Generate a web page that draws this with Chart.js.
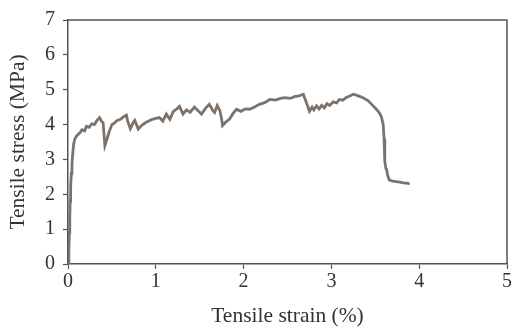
<!DOCTYPE html>
<html>
<head>
<meta charset="utf-8">
<script src="https://cdn.jsdelivr.net/npm/chart.js@4/dist/chart.umd.min.js"></script>
<style>
  html, body { margin: 0; padding: 0; background: #fff; }
  #wrap { width: 513px; height: 329px; }
</style>
</head>
<body>
<div id="wrap"><canvas id="chart"></canvas></div>
<script>
// Tensile test curve (strain in %, stress in MPa)
const strain = [
  0.00, 0.01, 0.015, 0.02, 0.025, 0.03, 0.038, 0.045, 0.055, 0.065,
  0.08, 0.10, 0.13, 0.16, 0.19, 0.21, 0.24, 0.27, 0.30, 0.33,
  0.36, 0.38, 0.40, 0.42, 0.44, 0.47, 0.50, 0.53, 0.56, 0.60,
  0.63, 0.665, 0.68, 0.71, 0.74, 0.76, 0.78, 0.80, 0.84, 0.88,
  0.92, 0.96, 1.00, 1.04, 1.08, 1.12, 1.16, 1.20, 1.24, 1.27,
  1.31, 1.35, 1.39, 1.44, 1.48, 1.52, 1.57, 1.61, 1.65, 1.67,
  1.70, 1.73, 1.75, 1.76, 1.80, 1.84, 1.88, 1.92, 1.97, 2.02,
  2.07, 2.12, 2.18, 2.24, 2.30, 2.36, 2.42, 2.47, 2.53, 2.58,
  2.63, 2.68, 2.70, 2.72, 2.75, 2.78, 2.80, 2.83, 2.86, 2.89,
  2.92, 2.95, 2.98, 3.02, 3.06, 3.09, 3.13, 3.17, 3.21, 3.25,
  3.30, 3.36, 3.42, 3.47, 3.52, 3.55, 3.57, 3.59, 3.60, 3.605,
  3.61, 3.62, 3.63, 3.64, 3.66, 3.70, 3.74, 3.78, 3.82, 3.86,
  3.89
];
const stress = [
  0.00, 0.45, 0.90, 1.30, 1.80, 2.20, 2.60, 2.85, 3.20, 3.45,
  3.60, 3.68, 3.75, 3.85, 3.82, 3.95, 3.92, 4.02, 4.00, 4.12,
  4.20, 4.10, 4.05, 3.40, 3.55, 3.80, 4.00, 4.05, 4.12, 4.15,
  4.22, 4.27, 4.10, 3.88, 4.05, 4.12, 4.00, 3.87, 3.98, 4.05,
  4.10, 4.15, 4.18, 4.20, 4.10, 4.30, 4.15, 4.38, 4.45, 4.52,
  4.30, 4.42, 4.35, 4.50, 4.40, 4.30, 4.48, 4.58, 4.40, 4.35,
  4.55, 4.40, 4.16, 3.97, 4.08, 4.16, 4.32, 4.44, 4.38, 4.45,
  4.44, 4.50, 4.58, 4.63, 4.72, 4.70, 4.75, 4.77, 4.75, 4.80,
  4.82, 4.87, 4.73, 4.60, 4.38, 4.50, 4.42, 4.54, 4.45, 4.55,
  4.48, 4.60, 4.55, 4.65, 4.62, 4.72, 4.70, 4.78, 4.82, 4.87,
  4.83, 4.77, 4.68, 4.55, 4.42, 4.32, 4.22, 4.00, 3.60, 3.30,
  2.95, 2.75, 2.70, 2.55, 2.41, 2.38, 2.36, 2.35, 2.33, 2.32,
  2.30
];
const xTicks = [0, 1, 2, 3, 4, 5];
const yTicks = [0, 1, 2, 3, 4, 5, 6, 7];

const axisColor = '#55505a';
const textColor = '#333333';
const tickFont = { family: '"Liberation Serif", "DejaVu Serif", serif', size: 20 };
const titleFont = { family: '"Liberation Serif", "DejaVu Serif", serif', size: 21.5 };

// draw the top and right edges of the frame
const framePlugin = {
  id: 'frame',
  afterDraw(chart) {
    const a = chart.chartArea;
    const ctx = chart.ctx;
    ctx.save();
    ctx.strokeStyle = axisColor;
    ctx.lineWidth = 1.5;
    ctx.beginPath();
    ctx.moveTo(a.left, a.top);
    ctx.lineTo(a.right, a.top);
    ctx.lineTo(a.right, a.bottom);
    ctx.stroke();
    ctx.restore();
  }
};

const points = strain.map((s, i) => ({ x: s, y: stress[i] }));

new Chart(document.getElementById('chart'), {
  type: 'scatter',
  data: {
    datasets: [{
      data: points,
      showLine: true,
      borderColor: '#7d7269',
      borderWidth: 2.8,
      pointRadius: 0,
      tension: 0
    }]
  },
  options: {
    responsive: true,
    maintainAspectRatio: false,
    animation: false,
    layout: { padding: { top: 16, right: 6, left: 0, bottom: 0 } },
    plugins: {
      legend: { display: false },
      tooltip: { enabled: false }
    },
    scales: {
      x: {
        type: 'linear',
        min: 0,
        max: 5,
        afterBuildTicks: s => { s.ticks = xTicks.map(v => ({ value: v })); },
        afterFit: s => { s.height = 65; },
        border: { color: axisColor, width: 1.5 },
        grid: { drawOnChartArea: false, tickLength: 5, color: axisColor, tickWidth: 1.2 },
        ticks: { color: textColor, font: tickFont, padding: 1, maxRotation: 0 },
        title: { display: true, text: 'Tensile strain (%)', color: textColor, font: titleFont, padding: { top: 6, bottom: 0 } }
      },
      y: {
        type: 'linear',
        min: 0,
        max: 7,
        afterBuildTicks: s => { s.ticks = yTicks.map(v => ({ value: v })); },
        afterFit: s => { s.width = 68; },
        border: { color: axisColor, width: 1.5 },
        grid: { drawOnChartArea: false, tickLength: 5, color: axisColor, tickWidth: 1.2 },
        ticks: { color: textColor, font: tickFont, padding: 8 },
        title: { display: true, text: 'Tensile stress (MPa)', color: textColor, font: titleFont, padding: { top: 5, bottom: 0 } }
      }
    }
  },
  plugins: [framePlugin]
});
</script>
</body>
</html>
